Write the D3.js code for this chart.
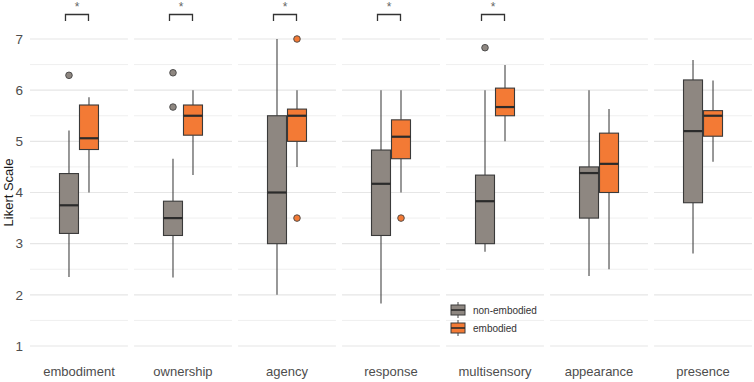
<!DOCTYPE html>
<html>
<head>
<meta charset="utf-8">
<script src="https://cdn.jsdelivr.net/npm/d3@7"></script>
<style>
  body { margin: 0; background: #fff; }
  text { font-family: "Liberation Sans", Arial, sans-serif; }
</style>
</head>
<body>
<div id="chart"></div>
<script>
/* DATA */
const categories = ["embodiment", "ownership", "agency", "response", "multisensory", "appearance", "presence"];
const groups = ["non-embodied", "embodied"];
const colors = ["#8e8781", "#f37a35"];

// [lower whisker, Q1, median, Q3, upper whisker] per category
const nonEmbodiedStats = [
  [2.35, 3.2, 3.75, 4.37, 5.21],
  [2.34, 3.16, 3.5, 3.83, 4.66],
  [2.0, 3.0, 4.0, 5.5, 7.0],
  [1.83, 3.16, 4.17, 4.83, 6.0],
  [2.84, 3.0, 3.83, 4.34, 6.0],
  [2.37, 3.5, 4.38, 4.5, 6.0],
  [2.81, 3.8, 5.2, 6.2, 6.59]
];
const embodiedStats = [
  [4.0, 4.84, 5.06, 5.71, 5.86],
  [4.34, 5.12, 5.5, 5.71, 6.0],
  [4.5, 5.0, 5.5, 5.63, 6.0],
  [4.0, 4.66, 5.09, 5.42, 6.0],
  [5.0, 5.5, 5.67, 6.04, 6.49],
  [2.5, 4.0, 4.56, 5.16, 5.63],
  [4.6, 5.1, 5.5, 5.6, 6.19]
];
const nonEmbodiedOutliers = [[6.29], [6.34, 5.67], [], [], [6.83], [], []];
const embodiedOutliers = [[], [], [7.0, 3.5], [3.5], [], [], []];
const significant = ["embodiment", "ownership", "agency", "response", "multisensory"];
const yTicks = [1, 2, 3, 4, 5, 6, 7];
const yMinor = [1.5, 2.5, 3.5, 4.5, 5.5, 6.5];

/* CONSTANTS */
const width = 754,
  height = 382,
  margin = { top: 39, bottom: 36, left: 30, right: 2 };

const svg = d3.select("#chart")
  .append("svg")
  .attr("width", width)
  .attr("height", height);

// panel scale (one facet per category)
const xPanel = d3.scaleBand()
  .domain(categories)
  .range([margin.left, width - margin.right])
  .paddingInner(0.058);

const xGroup = d3.scaleBand()
  .domain(groups)
  .range([xPanel.bandwidth() / 2 - 20, xPanel.bandwidth() / 2 + 20]);

const yScale = d3.scaleLinear()
  .domain([1, 7])
  .range([height - margin.bottom, margin.top]);

const boxW = xGroup.bandwidth() * 0.95;

// build rows for drawing
const rows = [];
categories.forEach((c, i) => {
  [nonEmbodiedStats, embodiedStats].forEach((stats, g) => {
    const s = stats[i];
    rows.push({
      category: c,
      group: groups[g],
      color: colors[g],
      lo: s[0], q1: s[1], med: s[2], q3: s[3], hi: s[4],
      outliers: (g === 0 ? nonEmbodiedOutliers : embodiedOutliers)[i]
    });
  });
});

const panels = svg.selectAll("g.panel")
  .data(categories)
  .join("g")
  .attr("class", "panel")
  .attr("transform", d => `translate(${xPanel(d)},0)`);

// grid
panels.selectAll("line.minor")
  .data(yMinor)
  .join("line")
  .attr("class", "minor")
  .attr("x1", 0).attr("x2", xPanel.bandwidth())
  .attr("y1", d => yScale(d)).attr("y2", d => yScale(d))
  .attr("stroke", "#efefef").attr("stroke-width", 1);

panels.selectAll("line.major")
  .data(yTicks)
  .join("line")
  .attr("class", "major")
  .attr("x1", 0).attr("x2", xPanel.bandwidth())
  .attr("y1", d => yScale(d)).attr("y2", d => yScale(d))
  .attr("stroke", "#e6e6e6").attr("stroke-width", 1.1);

// category labels
panels.append("text")
  .attr("x", xPanel.bandwidth() / 2)
  .attr("y", 376)
  .attr("text-anchor", "middle")
  .attr("font-size", 13)
  .attr("fill", "#4d4d4d")
  .text(d => d);

// boxes
const box = svg.selectAll("g.box")
  .data(rows)
  .join("g")
  .attr("class", "box")
  .attr("transform", d => `translate(${xPanel(d.category) + xGroup(d.group) + xGroup.bandwidth() / 2},0)`);

box.append("line")
  .attr("y1", d => yScale(d.hi)).attr("y2", d => yScale(d.q3))
  .attr("stroke", "#444").attr("stroke-width", 1.1);
box.append("line")
  .attr("y1", d => yScale(d.q1)).attr("y2", d => yScale(d.lo))
  .attr("stroke", "#444").attr("stroke-width", 1.1);
box.append("rect")
  .attr("x", -boxW / 2)
  .attr("width", boxW)
  .attr("y", d => yScale(d.q3))
  .attr("height", d => yScale(d.q1) - yScale(d.q3))
  .attr("fill", d => d.color)
  .attr("stroke", "#3a3a3a").attr("stroke-width", 1.1);
box.append("line")
  .attr("x1", -boxW / 2).attr("x2", boxW / 2)
  .attr("y1", d => yScale(d.med)).attr("y2", d => yScale(d.med))
  .attr("stroke", "#2b2b2b").attr("stroke-width", 2.2);
box.selectAll("circle")
  .data(d => d.outliers.map(v => ({ v, color: d.color })))
  .join("circle")
  .attr("cy", d => yScale(d.v))
  .attr("r", 3.3)
  .attr("fill", d => d.color)
  .attr("stroke", "#444").attr("stroke-width", 0.9);

// significance brackets
const sig = svg.selectAll("g.sig")
  .data(significant)
  .join("g")
  .attr("class", "sig")
  .attr("transform", d => `translate(${xPanel(d) + xPanel.bandwidth() / 2 - 2},0)`);
sig.append("path")
  .attr("d", "M-11.5,21V14.5H11.5V21")
  .attr("fill", "none")
  .attr("stroke", "#333").attr("stroke-width", 1.3);
sig.append("text")
  .attr("y", 11)
  .attr("text-anchor", "middle")
  .attr("font-size", 12)
  .attr("fill", "#666")
  .text("*");

// y axis tick labels
svg.selectAll("text.ytick")
  .data(yTicks)
  .join("text")
  .attr("class", "ytick")
  .attr("x", 23)
  .attr("y", d => yScale(d))
  .attr("dy", "0.35em")
  .attr("text-anchor", "end")
  .attr("font-size", 13.5)
  .attr("fill", "#4d4d4d")
  .text(d => d);

svg.append("text")
  .attr("transform", `translate(13,${(yScale(1) + yScale(7)) / 2}) rotate(-90)`)
  .attr("text-anchor", "middle")
  .attr("font-size", 13)
  .attr("fill", "#1a1a1a")
  .text("Likert Scale");

// legend
const legend = svg.selectAll("g.legend")
  .data(groups)
  .join("g")
  .attr("class", "legend")
  .attr("transform", (d, i) => `translate(458,${310 + i * 18})`);
legend.append("line")
  .attr("y1", -8).attr("y2", 8)
  .attr("stroke", "#444").attr("stroke-width", 1);
legend.append("rect")
  .attr("x", -7).attr("y", -5).attr("width", 14).attr("height", 10)
  .attr("fill", (d, i) => colors[i])
  .attr("stroke", "#3a3a3a").attr("stroke-width", 1);
legend.append("line")
  .attr("x1", -7).attr("x2", 7)
  .attr("stroke", "#2b2b2b").attr("stroke-width", 1.6);
legend.append("text")
  .attr("x", 15)
  .attr("dy", "0.35em")
  .attr("font-size", 10)
  .attr("fill", "#333")
  .text(d => d);
</script>
</body>
</html>
